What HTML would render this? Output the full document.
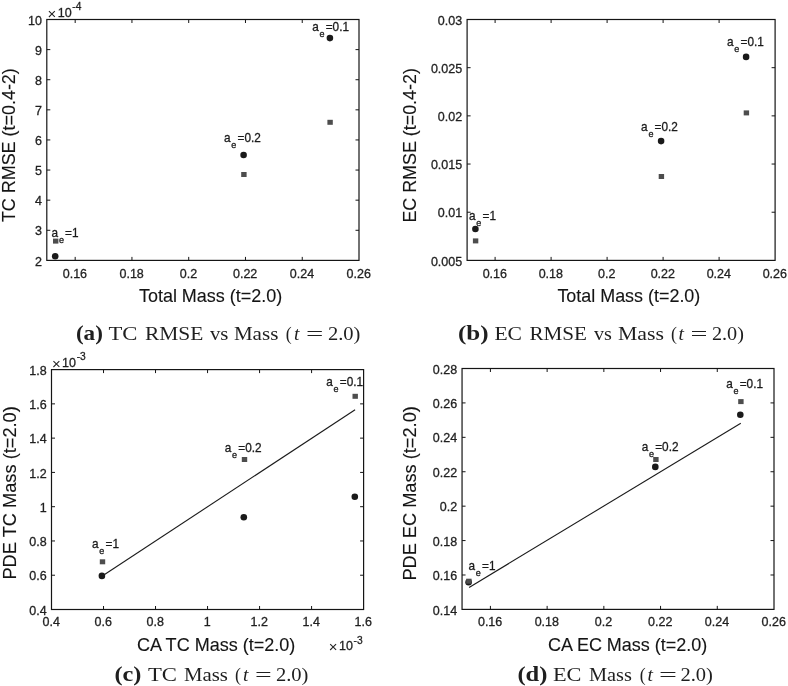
<!DOCTYPE html>
<html><head><meta charset="utf-8"><title>Figure</title>
<style>
html,body{margin:0;padding:0;background:#fff;overflow:hidden}
svg{display:block;font-family:"Liberation Sans",sans-serif}
text{stroke:#1f1f1f;stroke-width:0.3px;paint-order:stroke}
.ns{stroke:none}
.lab{stroke-width:0.12px;fill:#141414}
</style></head><body>
<svg width="788" height="686" viewBox="0 0 788 686">
<rect width="788" height="686" fill="#fff"/>
<rect x="46.8" y="19.5" width="312.2" height="240.9" fill="none" stroke="#151515" stroke-width="1.2"/>
<path d="M75.18 260.4v-3.5M75.18 19.5v3.5M131.95 260.4v-3.5M131.95 19.5v3.5M188.71 260.4v-3.5M188.71 19.5v3.5M245.47 260.4v-3.5M245.47 19.5v3.5M302.24 260.4v-3.5M302.24 19.5v3.5M46.8 230.29h3.5M359 230.29h-3.5M46.8 200.17h3.5M359 200.17h-3.5M46.8 170.06h3.5M359 170.06h-3.5M46.8 139.95h3.5M359 139.95h-3.5M46.8 109.84h3.5M359 109.84h-3.5M46.8 79.72h3.5M359 79.72h-3.5M46.8 49.61h3.5M359 49.61h-3.5" stroke="#151515" stroke-width="1" fill="none"/>
<text x="74.88" y="277.5" text-anchor="middle" font-size="12.5" fill="#1f1f1f">0.16</text>
<text x="131.65" y="277.5" text-anchor="middle" font-size="12.5" fill="#1f1f1f">0.18</text>
<text x="188.41" y="277.5" text-anchor="middle" font-size="12.5" fill="#1f1f1f">0.2</text>
<text x="245.17" y="277.5" text-anchor="middle" font-size="12.5" fill="#1f1f1f">0.22</text>
<text x="301.94" y="277.5" text-anchor="middle" font-size="12.5" fill="#1f1f1f">0.24</text>
<text x="358.7" y="277.5" text-anchor="middle" font-size="12.5" fill="#1f1f1f">0.26</text>
<text x="41.9" y="265.5" text-anchor="end" font-size="12.5" fill="#1f1f1f">2</text>
<text x="41.9" y="235.39" text-anchor="end" font-size="12.5" fill="#1f1f1f">3</text>
<text x="41.9" y="205.27" text-anchor="end" font-size="12.5" fill="#1f1f1f">4</text>
<text x="41.9" y="175.16" text-anchor="end" font-size="12.5" fill="#1f1f1f">5</text>
<text x="41.9" y="145.05" text-anchor="end" font-size="12.5" fill="#1f1f1f">6</text>
<text x="41.9" y="114.94" text-anchor="end" font-size="12.5" fill="#1f1f1f">7</text>
<text x="41.9" y="84.82" text-anchor="end" font-size="12.5" fill="#1f1f1f">8</text>
<text x="41.9" y="54.71" text-anchor="end" font-size="12.5" fill="#1f1f1f">9</text>
<text x="41.9" y="24.6" text-anchor="end" font-size="12.5" fill="#1f1f1f">10</text>
<text id="xlab_a" x="138.9" y="301.9" font-size="17.8" textLength="143.42" lengthAdjust="spacingAndGlyphs" fill="#1f1f1f" class="lab">Total Mass (t=2.0)</text>
<text id="ylab_a" transform="translate(15.4 222.1) rotate(-90)" font-size="17.8" textLength="153.91" lengthAdjust="spacingAndGlyphs" fill="#1f1f1f" class="lab">TC RMSE (t=0.4-2)</text>
<text id="ex1a" x="47.5" y="18.6" font-size="15" fill="#1f1f1f" class="ns">×</text>
<text id="ex1b" x="57.7" y="16.5" font-size="12.5" fill="#1f1f1f">10</text>
<text id="ex1c" x="72.3" y="10.2" font-size="10.2" fill="#1f1f1f">-4</text>
<rect x="53" y="238.6" width="5.4" height="5" fill="#4d4d4d"/>
<circle cx="55.2" cy="256.2" r="3.3" fill="#1a1a1a"/>
<circle cx="243.6" cy="155" r="3.3" fill="#1a1a1a"/>
<rect x="241.2" y="172" width="5.4" height="5" fill="#4d4d4d"/>
<circle cx="329.9" cy="38.1" r="3.3" fill="#1a1a1a"/>
<rect x="327.4" y="119.8" width="5.4" height="5" fill="#4d4d4d"/>
<text id="ann1" transform="translate(51.6 236.6) scale(1 1.03)" font-size="11.8" fill="#1a1a1a">a<tspan x="7.3" dy="6.0" font-size="9.0">e</tspan><tspan x="13.5" dy="-6.0" font-size="11.8">=1</tspan></text>
<text id="ann2" transform="translate(224 141.6) scale(1 1.03)" font-size="11.8" fill="#1a1a1a">a<tspan x="7.3" dy="6.0" font-size="9.0">e</tspan><tspan x="13.5" dy="-6.0" font-size="11.8">=0.2</tspan></text>
<text id="ann3" transform="translate(312.2 30.9) scale(1 1.03)" font-size="11.8" fill="#1a1a1a">a<tspan x="7.3" dy="6.0" font-size="9.0">e</tspan><tspan x="13.5" dy="-6.0" font-size="11.8">=0.1</tspan></text>
<rect x="467.1" y="19.5" width="308" height="240.9" fill="none" stroke="#151515" stroke-width="1.2"/>
<path d="M495.1 260.4v-3.5M495.1 19.5v3.5M551.1 260.4v-3.5M551.1 19.5v3.5M607.1 260.4v-3.5M607.1 19.5v3.5M663.1 260.4v-3.5M663.1 19.5v3.5M719.1 260.4v-3.5M719.1 19.5v3.5M467.1 212.22h3.5M775.1 212.22h-3.5M467.1 164.04h3.5M775.1 164.04h-3.5M467.1 115.86h3.5M775.1 115.86h-3.5M467.1 67.68h3.5M775.1 67.68h-3.5" stroke="#151515" stroke-width="1" fill="none"/>
<text x="494.8" y="277.5" text-anchor="middle" font-size="12.5" fill="#1f1f1f">0.16</text>
<text x="550.8" y="277.5" text-anchor="middle" font-size="12.5" fill="#1f1f1f">0.18</text>
<text x="606.8" y="277.5" text-anchor="middle" font-size="12.5" fill="#1f1f1f">0.2</text>
<text x="662.8" y="277.5" text-anchor="middle" font-size="12.5" fill="#1f1f1f">0.22</text>
<text x="718.8" y="277.5" text-anchor="middle" font-size="12.5" fill="#1f1f1f">0.24</text>
<text x="774.8" y="277.5" text-anchor="middle" font-size="12.5" fill="#1f1f1f">0.26</text>
<text x="462.2" y="265.5" text-anchor="end" font-size="12.5" fill="#1f1f1f">0.005</text>
<text x="462.2" y="217.32" text-anchor="end" font-size="12.5" fill="#1f1f1f">0.01</text>
<text x="462.2" y="169.14" text-anchor="end" font-size="12.5" fill="#1f1f1f">0.015</text>
<text x="462.2" y="120.96" text-anchor="end" font-size="12.5" fill="#1f1f1f">0.02</text>
<text x="462.2" y="72.78" text-anchor="end" font-size="12.5" fill="#1f1f1f">0.025</text>
<text x="462.2" y="24.6" text-anchor="end" font-size="12.5" fill="#1f1f1f">0.03</text>
<text id="xlab_b" x="557.4" y="301.9" font-size="17.8" textLength="142.91" lengthAdjust="spacingAndGlyphs" fill="#1f1f1f" class="lab">Total Mass (t=2.0)</text>
<text id="ylab_b" transform="translate(416.4 222.6) rotate(-90)" font-size="17.8" textLength="154.44" lengthAdjust="spacingAndGlyphs" fill="#1f1f1f" class="lab">EC RMSE (t=0.4-2)</text>
<circle cx="475.4" cy="229" r="3.3" fill="#1a1a1a"/>
<rect x="472.9" y="238.4" width="5.4" height="5" fill="#4d4d4d"/>
<circle cx="661.1" cy="141.1" r="3.3" fill="#1a1a1a"/>
<rect x="658.7" y="174" width="5.4" height="5" fill="#4d4d4d"/>
<circle cx="746.1" cy="56.9" r="3.3" fill="#1a1a1a"/>
<rect x="743.7" y="110.4" width="5.4" height="5" fill="#4d4d4d"/>
<text id="ann4" transform="translate(469 220.2) scale(1 1.03)" font-size="11.8" fill="#1a1a1a">a<tspan x="7.3" dy="6.0" font-size="9.0">e</tspan><tspan x="13.5" dy="-6.0" font-size="11.8">=1</tspan></text>
<text id="ann5" transform="translate(641.1 131) scale(1 1.03)" font-size="11.8" fill="#1a1a1a">a<tspan x="7.3" dy="6.0" font-size="9.0">e</tspan><tspan x="13.5" dy="-6.0" font-size="11.8">=0.2</tspan></text>
<text id="ann6" transform="translate(727 45.8) scale(1 1.03)" font-size="11.8" fill="#1a1a1a">a<tspan x="7.3" dy="6.0" font-size="9.0">e</tspan><tspan x="13.5" dy="-6.0" font-size="11.8">=0.1</tspan></text>
<rect x="51.5" y="369.6" width="312.1" height="239.9" fill="none" stroke="#151515" stroke-width="1.2"/>
<path d="M103.52 609.5v-3.5M103.52 369.6v3.5M155.53 609.5v-3.5M155.53 369.6v3.5M207.55 609.5v-3.5M207.55 369.6v3.5M259.57 609.5v-3.5M259.57 369.6v3.5M311.58 609.5v-3.5M311.58 369.6v3.5M51.5 575.23h3.5M363.6 575.23h-3.5M51.5 540.96h3.5M363.6 540.96h-3.5M51.5 506.69h3.5M363.6 506.69h-3.5M51.5 472.41h3.5M363.6 472.41h-3.5M51.5 438.14h3.5M363.6 438.14h-3.5M51.5 403.87h3.5M363.6 403.87h-3.5" stroke="#151515" stroke-width="1" fill="none"/>
<text x="51.2" y="626" text-anchor="middle" font-size="12.5" fill="#1f1f1f">0.4</text>
<text x="103.22" y="626" text-anchor="middle" font-size="12.5" fill="#1f1f1f">0.6</text>
<text x="155.23" y="626" text-anchor="middle" font-size="12.5" fill="#1f1f1f">0.8</text>
<text x="207.25" y="626" text-anchor="middle" font-size="12.5" fill="#1f1f1f">1</text>
<text x="259.27" y="626" text-anchor="middle" font-size="12.5" fill="#1f1f1f">1.2</text>
<text x="311.28" y="626" text-anchor="middle" font-size="12.5" fill="#1f1f1f">1.4</text>
<text x="363.3" y="626" text-anchor="middle" font-size="12.5" fill="#1f1f1f">1.6</text>
<text x="46.6" y="614.6" text-anchor="end" font-size="12.5" fill="#1f1f1f">0.4</text>
<text x="46.6" y="580.33" text-anchor="end" font-size="12.5" fill="#1f1f1f">0.6</text>
<text x="46.6" y="546.06" text-anchor="end" font-size="12.5" fill="#1f1f1f">0.8</text>
<text x="46.6" y="511.79" text-anchor="end" font-size="12.5" fill="#1f1f1f">1</text>
<text x="46.6" y="477.51" text-anchor="end" font-size="12.5" fill="#1f1f1f">1.2</text>
<text x="46.6" y="443.24" text-anchor="end" font-size="12.5" fill="#1f1f1f">1.4</text>
<text x="46.6" y="408.97" text-anchor="end" font-size="12.5" fill="#1f1f1f">1.6</text>
<text x="46.6" y="374.7" text-anchor="end" font-size="12.5" fill="#1f1f1f">1.8</text>
<text id="xlab_c" x="136.9" y="650.9" font-size="17.8" textLength="158.43" lengthAdjust="spacingAndGlyphs" fill="#1f1f1f" class="lab">CA TC Mass (t=2.0)</text>
<text id="ylab_c" transform="translate(15.8 579.6) rotate(-90)" font-size="17.8" textLength="173.44" lengthAdjust="spacingAndGlyphs" fill="#1f1f1f" class="lab">PDE TC Mass (t=2.0)</text>
<text id="ex2a" x="51.9" y="368.8" font-size="15" fill="#1f1f1f" class="ns">×</text>
<text id="ex2b" x="62.1" y="366.7" font-size="12.5" fill="#1f1f1f">10</text>
<text id="ex2c" x="76.7" y="360.4" font-size="10.2" fill="#1f1f1f">-3</text>
<text id="ex3a" x="328.8" y="652.4" font-size="15" fill="#1f1f1f" class="ns">×</text>
<text id="ex3b" x="339" y="650.3" font-size="12.5" fill="#1f1f1f">10</text>
<text id="ex3c" x="353.6" y="644" font-size="10.2" fill="#1f1f1f">-3</text>
<line x1="101.9" y1="576.2" x2="355.1" y2="409.8" stroke="#1a1a1a" stroke-width="1.1"/>
<circle cx="101.9" cy="575.9" r="3.3" fill="#1a1a1a"/>
<rect x="99.8" y="559.3" width="5.4" height="5" fill="#4d4d4d"/>
<circle cx="243.8" cy="517.2" r="3.3" fill="#1a1a1a"/>
<rect x="241.8" y="457" width="5.4" height="5" fill="#4d4d4d"/>
<circle cx="354.8" cy="496.7" r="3.3" fill="#1a1a1a"/>
<rect x="352.5" y="393.8" width="5.4" height="5" fill="#4d4d4d"/>
<text id="ann7" transform="translate(92 548.2) scale(1 1.03)" font-size="11.8" fill="#1a1a1a">a<tspan x="7.3" dy="6.0" font-size="9.0">e</tspan><tspan x="13.5" dy="-6.0" font-size="11.8">=1</tspan></text>
<text id="ann8" transform="translate(224.8 451.8) scale(1 1.03)" font-size="11.8" fill="#1a1a1a">a<tspan x="7.3" dy="6.0" font-size="9.0">e</tspan><tspan x="13.5" dy="-6.0" font-size="11.8">=0.2</tspan></text>
<text id="ann9" transform="translate(326.3 385.6) scale(1 1.03)" font-size="11.8" fill="#1a1a1a">a<tspan x="7.3" dy="6.0" font-size="9.0">e</tspan><tspan x="13.5" dy="-6.0" font-size="11.8">=0.1</tspan></text>
<rect x="462.05" y="368.5" width="311.95" height="240.9" fill="none" stroke="#151515" stroke-width="1.2"/>
<path d="M490.41 609.4v-3.5M490.41 368.5v3.5M547.13 609.4v-3.5M547.13 368.5v3.5M603.85 609.4v-3.5M603.85 368.5v3.5M660.56 609.4v-3.5M660.56 368.5v3.5M717.28 609.4v-3.5M717.28 368.5v3.5M462.05 574.99h3.5M774 574.99h-3.5M462.05 540.57h3.5M774 540.57h-3.5M462.05 506.16h3.5M774 506.16h-3.5M462.05 471.74h3.5M774 471.74h-3.5M462.05 437.33h3.5M774 437.33h-3.5M462.05 402.91h3.5M774 402.91h-3.5" stroke="#151515" stroke-width="1" fill="none"/>
<text x="490.11" y="626" text-anchor="middle" font-size="12.5" fill="#1f1f1f">0.16</text>
<text x="546.83" y="626" text-anchor="middle" font-size="12.5" fill="#1f1f1f">0.18</text>
<text x="603.55" y="626" text-anchor="middle" font-size="12.5" fill="#1f1f1f">0.2</text>
<text x="660.26" y="626" text-anchor="middle" font-size="12.5" fill="#1f1f1f">0.22</text>
<text x="716.98" y="626" text-anchor="middle" font-size="12.5" fill="#1f1f1f">0.24</text>
<text x="773.7" y="626" text-anchor="middle" font-size="12.5" fill="#1f1f1f">0.26</text>
<text x="457.15" y="614.5" text-anchor="end" font-size="12.5" fill="#1f1f1f">0.14</text>
<text x="457.15" y="580.09" text-anchor="end" font-size="12.5" fill="#1f1f1f">0.16</text>
<text x="457.15" y="545.67" text-anchor="end" font-size="12.5" fill="#1f1f1f">0.18</text>
<text x="457.15" y="511.26" text-anchor="end" font-size="12.5" fill="#1f1f1f">0.2</text>
<text x="457.15" y="476.84" text-anchor="end" font-size="12.5" fill="#1f1f1f">0.22</text>
<text x="457.15" y="442.43" text-anchor="end" font-size="12.5" fill="#1f1f1f">0.24</text>
<text x="457.15" y="408.01" text-anchor="end" font-size="12.5" fill="#1f1f1f">0.26</text>
<text x="457.15" y="373.6" text-anchor="end" font-size="12.5" fill="#1f1f1f">0.28</text>
<text id="xlab_d" x="547.9" y="650.9" font-size="17.8" textLength="159.42" lengthAdjust="spacingAndGlyphs" fill="#1f1f1f" class="lab">CA EC Mass (t=2.0)</text>
<text id="ylab_d" transform="translate(415.8 580.6) rotate(-90)" font-size="17.8" textLength="174.44" lengthAdjust="spacingAndGlyphs" fill="#1f1f1f" class="lab">PDE EC Mass (t=2.0)</text>
<line x1="469.1" y1="587.5" x2="740.8" y2="423.2" stroke="#1a1a1a" stroke-width="1.1"/>
<circle cx="468.6" cy="582.2" r="3.3" fill="#1a1a1a"/>
<rect x="466.2" y="578.7" width="5.4" height="5" fill="#4d4d4d"/>
<rect x="653.2" y="457" width="5.4" height="5" fill="#4d4d4d"/>
<circle cx="655.3" cy="466.9" r="3.3" fill="#1a1a1a"/>
<rect x="738.2" y="399.1" width="5.4" height="5" fill="#4d4d4d"/>
<circle cx="740.3" cy="414.8" r="3.3" fill="#1a1a1a"/>
<text id="ann10" transform="translate(468.5 570) scale(1 1.03)" font-size="11.8" fill="#1a1a1a">a<tspan x="7.3" dy="6.0" font-size="9.0">e</tspan><tspan x="13.5" dy="-6.0" font-size="11.8">=1</tspan></text>
<text id="ann11" transform="translate(641.7 450.8) scale(1 1.03)" font-size="11.8" fill="#1a1a1a">a<tspan x="7.3" dy="6.0" font-size="9.0">e</tspan><tspan x="13.5" dy="-6.0" font-size="11.8">=0.2</tspan></text>
<text id="ann12" transform="translate(726.2 388.1) scale(1 1.03)" font-size="11.8" fill="#1a1a1a">a<tspan x="7.3" dy="6.0" font-size="9.0">e</tspan><tspan x="13.5" dy="-6.0" font-size="11.8">=0.1</tspan></text>
<text id="cap_a0" x="75.9" y="339.7" font-size="21.5" textLength="27.03" lengthAdjust="spacingAndGlyphs" fill="#1f1f1f" font-family="'Liberation Serif', serif" class="ns" font-weight="bold">(a)</text>
<text id="cap_a1" x="108.4" y="339.7" font-size="17.8" textLength="29.02" lengthAdjust="spacingAndGlyphs" fill="#1f1f1f" font-family="'Liberation Serif', serif" class="ns">TC</text>
<text id="cap_a2" x="144.9" y="339.7" font-size="17.8" textLength="58.47" lengthAdjust="spacingAndGlyphs" fill="#1f1f1f" font-family="'Liberation Serif', serif" class="ns">RMSE</text>
<text id="cap_a3" x="209.9" y="339.7" font-size="17.8" textLength="18.5" lengthAdjust="spacingAndGlyphs" fill="#1f1f1f" font-family="'Liberation Serif', serif" class="ns">vs</text>
<text id="cap_a4" x="233.9" y="339.7" font-size="17.8" textLength="44.45" lengthAdjust="spacingAndGlyphs" fill="#1f1f1f" font-family="'Liberation Serif', serif" class="ns">Mass</text>
<text id="cap_a5" x="288.75" y="339.7" font-size="17.8" text-anchor="middle" fill="#1f1f1f" font-family="'Liberation Serif', serif" class="ns">(</text>
<text id="cap_a6" x="296.75" y="339.7" font-size="19.5" text-anchor="middle" fill="#1f1f1f" font-family="'Liberation Serif', serif" class="ns"><tspan font-style="italic">t</tspan></text>
<text id="cap_a7" x="305.9" y="339.7" font-size="17.8" textLength="17.36" lengthAdjust="spacingAndGlyphs" fill="#1f1f1f" font-family="'Liberation Serif', serif" class="ns">=</text>
<text id="cap_a8" x="327.9" y="339.7" font-size="17.8" textLength="32.54" lengthAdjust="spacingAndGlyphs" fill="#1f1f1f" font-family="'Liberation Serif', serif" class="ns">2.0)</text>
<text id="cap_b0" x="457.9" y="339.7" font-size="21.5" textLength="30.63" lengthAdjust="spacingAndGlyphs" fill="#1f1f1f" font-family="'Liberation Serif', serif" class="ns" font-weight="bold">(b)</text>
<text id="cap_b1" x="494.4" y="339.7" font-size="17.8" textLength="27.61" lengthAdjust="spacingAndGlyphs" fill="#1f1f1f" font-family="'Liberation Serif', serif" class="ns">EC</text>
<text id="cap_b2" x="529.4" y="339.7" font-size="17.8" textLength="57.48" lengthAdjust="spacingAndGlyphs" fill="#1f1f1f" font-family="'Liberation Serif', serif" class="ns">RMSE</text>
<text id="cap_b3" x="593.9" y="339.7" font-size="17.8" textLength="17.94" lengthAdjust="spacingAndGlyphs" fill="#1f1f1f" font-family="'Liberation Serif', serif" class="ns">vs</text>
<text id="cap_b4" x="617.9" y="339.7" font-size="17.8" textLength="46.03" lengthAdjust="spacingAndGlyphs" fill="#1f1f1f" font-family="'Liberation Serif', serif" class="ns">Mass</text>
<text id="cap_b5" x="674" y="339.7" font-size="17.8" text-anchor="middle" fill="#1f1f1f" font-family="'Liberation Serif', serif" class="ns">(</text>
<text id="cap_b6" x="681.25" y="339.7" font-size="19.5" text-anchor="middle" fill="#1f1f1f" font-family="'Liberation Serif', serif" class="ns"><tspan font-style="italic">t</tspan></text>
<text id="cap_b7" x="690.4" y="339.7" font-size="17.8" textLength="16.98" lengthAdjust="spacingAndGlyphs" fill="#1f1f1f" font-family="'Liberation Serif', serif" class="ns">=</text>
<text id="cap_b8" x="711.9" y="339.7" font-size="17.8" textLength="32.01" lengthAdjust="spacingAndGlyphs" fill="#1f1f1f" font-family="'Liberation Serif', serif" class="ns">2.0)</text>
<text id="cap_c0" x="114.4" y="680.9" font-size="21.5" textLength="27.02" lengthAdjust="spacingAndGlyphs" fill="#1f1f1f" font-family="'Liberation Serif', serif" class="ns" font-weight="bold">(c)</text>
<text id="cap_c1" x="147.9" y="680.9" font-size="17.8" textLength="29.06" lengthAdjust="spacingAndGlyphs" fill="#1f1f1f" font-family="'Liberation Serif', serif" class="ns">TC</text>
<text id="cap_c2" x="183.9" y="680.9" font-size="17.8" textLength="43.97" lengthAdjust="spacingAndGlyphs" fill="#1f1f1f" font-family="'Liberation Serif', serif" class="ns">Mass</text>
<text id="cap_c3" x="238" y="680.9" font-size="17.8" text-anchor="middle" fill="#1f1f1f" font-family="'Liberation Serif', serif" class="ns">(</text>
<text id="cap_c4" x="245.75" y="680.9" font-size="19.5" text-anchor="middle" fill="#1f1f1f" font-family="'Liberation Serif', serif" class="ns"><tspan font-style="italic">t</tspan></text>
<text id="cap_c5" x="254.9" y="680.9" font-size="17.8" textLength="16.72" lengthAdjust="spacingAndGlyphs" fill="#1f1f1f" font-family="'Liberation Serif', serif" class="ns">=</text>
<text id="cap_c6" x="275.9" y="680.9" font-size="17.8" textLength="32.55" lengthAdjust="spacingAndGlyphs" fill="#1f1f1f" font-family="'Liberation Serif', serif" class="ns">2.0)</text>
<text id="cap_d0" x="517.4" y="680.9" font-size="21.5" textLength="30.06" lengthAdjust="spacingAndGlyphs" fill="#1f1f1f" font-family="'Liberation Serif', serif" class="ns" font-weight="bold">(d)</text>
<text id="cap_d1" x="552.9" y="680.9" font-size="17.8" textLength="28.54" lengthAdjust="spacingAndGlyphs" fill="#1f1f1f" font-family="'Liberation Serif', serif" class="ns">EC</text>
<text id="cap_d2" x="588.9" y="680.9" font-size="17.8" textLength="42.95" lengthAdjust="spacingAndGlyphs" fill="#1f1f1f" font-family="'Liberation Serif', serif" class="ns">Mass</text>
<text id="cap_d3" x="642.75" y="680.9" font-size="17.8" text-anchor="middle" fill="#1f1f1f" font-family="'Liberation Serif', serif" class="ns">(</text>
<text id="cap_d4" x="650.25" y="680.9" font-size="19.5" text-anchor="middle" fill="#1f1f1f" font-family="'Liberation Serif', serif" class="ns"><tspan font-style="italic">t</tspan></text>
<text id="cap_d5" x="658.9" y="680.9" font-size="17.8" textLength="17.94" lengthAdjust="spacingAndGlyphs" fill="#1f1f1f" font-family="'Liberation Serif', serif" class="ns">=</text>
<text id="cap_d6" x="680.4" y="680.9" font-size="17.8" textLength="32.49" lengthAdjust="spacingAndGlyphs" fill="#1f1f1f" font-family="'Liberation Serif', serif" class="ns">2.0)</text>
</svg>
</body></html>
